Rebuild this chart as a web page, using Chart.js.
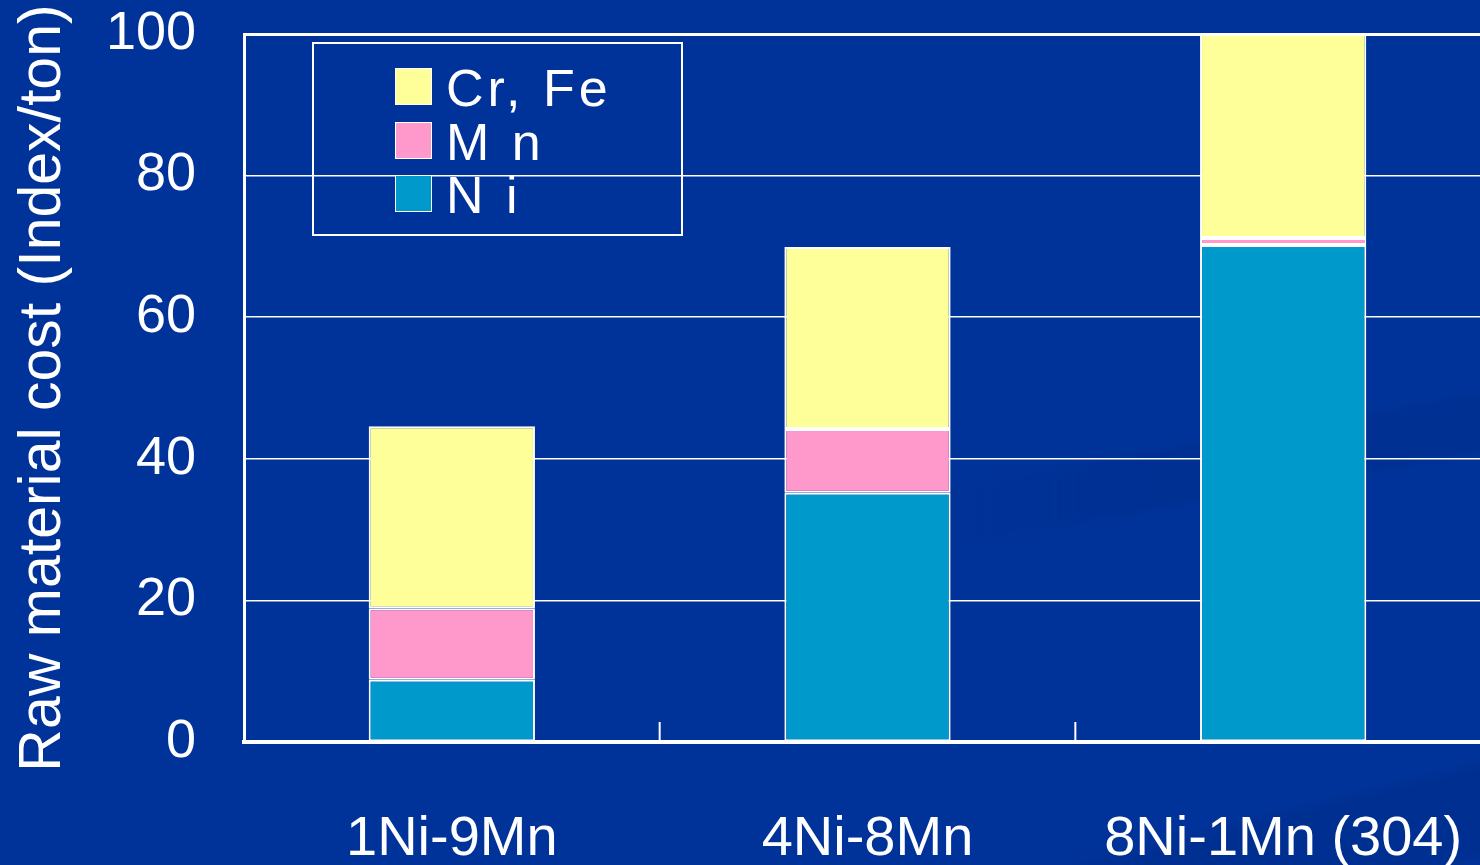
<!DOCTYPE html>
<html>
<head>
<meta charset="utf-8">
<script src="https://cdn.jsdelivr.net/npm/chart.js@4.4.1/dist/chart.umd.min.js"></script>
<style>
	html, body { margin: 0; padding: 0; background: #003399; overflow: hidden; width: 1480px; height: 865px; }
	#wrap { position: relative; width: 1491px; height: 865px; }
	/* faixas escuras suaves do fundo do slide */
	#fundo {
		position: absolute; left: 900px; top: 280px; width: 700px; height: 620px; opacity: 0.5;
		background:
			linear-gradient(-10deg, transparent 0 62%, rgba(0, 40, 130, 0.55) 64% 70%, transparent 72%),
			linear-gradient(-14deg, transparent 0 8%, rgba(0, 40, 130, 0.6) 10% 20%, transparent 22%);
		-webkit-mask-image: linear-gradient(to right, transparent, #000 35%);
		mask-image: linear-gradient(to right, transparent, #000 35%);
	}
	#grafico { display: block; position: relative; }
	#legenda {
		position: absolute; left: 312px; top: 42px; width: 367px; height: 190px;
		border: 2px solid #fff; font-family: "Liberation Sans", Arial, sans-serif; color: #fff;
	}
	.item { position: absolute; left: 81px; height: 37px; display: flex; align-items: center; white-space: pre; }
	.caixa { width: 35px; height: 35px; border: 1px solid #fff; }
	.texto { margin-left: 14px; font-size: 52px; letter-spacing: 4px; line-height: 37px; padding-top: 3px; }
</style>
</head>
<body>
<div id="wrap">
	<div id="fundo"></div>
	<canvas id="grafico" width="1491" height="865"></canvas>
	<div id="legenda"></div>
</div>
<script>
// Dados
const categorias = ["1Ni-9Mn", "4Ni-8Mn", "8Ni-1Mn (304)"];
const custoNi = [8.8, 35.2, 70.2];
const custoMn = [10.1, 9.0, 1.0];
const custoCrFe = [25.7, 25.7, 28.8];
const rotulosSerie = ["N i", "M n", "Cr, Fe"];
const coresSerie = ["#0099CC", "#FF99CC", "#FFFF99"];
const ticksY = [0, 20, 40, 60, 80, 100];

const fonte = "'Liberation Sans', Arial, sans-serif";

// Pequenas marcas entre categorias, para cima a partir do eixo
const marcasCategoria = {
	id: "marcasCategoria",
	afterDatasetsDraw(chart) {
		const x = chart.scales.x;
		const { ctx, chartArea } = chart;
		ctx.save();
		ctx.strokeStyle = "#fff";
		ctx.lineWidth = 2;
		for (let i = 1; i < categorias.length; i++) {
			const px = (x.getPixelForValue(i - 1) + x.getPixelForValue(i)) / 2;
			ctx.beginPath();
			ctx.moveTo(px, chartArea.bottom);
			ctx.lineTo(px, chartArea.bottom - 20);
			ctx.stroke();
		}
		ctx.restore();
	}
};

const series = [custoNi, custoMn, custoCrFe];

// distância dos rótulos feita com tickLength transparente (padding entra no autoPadding)
const chart = new Chart(document.getElementById("grafico"), {
	type: "bar",
	data: {
		labels: categorias,
		datasets: series.map((dados, i) => ({
			label: rotulosSerie[i],
			data: dados,
			backgroundColor: coresSerie[i],
			borderColor: "#fff",
			borderWidth: 2,
			borderSkipped: false,
			barPercentage: 0.4,
			categoryPercentage: 1
		}))
	},
	options: {
		responsive: false,
		animation: false,
		layout: { padding: { top: 34, left: 0, right: 0, bottom: 0 } },
		plugins: { legend: { display: false }, tooltip: { enabled: false } },
		scales: {
			x: {
				stacked: true,
				afterFit: (s) => { s.height = 123; },
				grid: { drawOnChartArea: false, drawTicks: true, tickLength: 64, tickColor: "transparent" },
				border: { color: "#fff", width: 4 },
				ticks: { color: "#fff", padding: 0, font: { family: fonte, size: 56 } }
			},
			y: {
				stacked: true,
				min: 0,
				max: 100,
				afterFit: (s) => { s.width = 244; },
				afterBuildTicks: (s) => { s.ticks = ticksY.map((v) => ({ value: v })); },
				grid: {
					color: "#fff",
					drawTicks: true,
					tickLength: 48,
					tickColor: "transparent",
					lineWidth: (c) => (c.tick && c.tick.value === 100 ? 3 : 1.5)
				},
				border: { color: "#fff", width: 3 },
				ticks: { color: "#fff", padding: 0, font: { family: fonte, size: 54 } },
				title: {
					display: true,
					text: "Raw material cost (Index/ton)",
					color: "#fff",
					padding: { top: 8, bottom: 0 },
					font: { family: fonte, size: 59 }
				}
			}
		}
	},
	plugins: [marcasCategoria]
});

// Legenda em HTML, ordem inversa do empilhamento
const legenda = document.getElementById("legenda");
const topos = [24, 78, 131];
chart.data.datasets.slice().reverse().forEach((ds, i) => {
	const item = document.createElement("div");
	item.className = "item";
	item.style.top = topos[i] + "px";
	item.innerHTML = `<div class="caixa" style="background:${ds.backgroundColor}"></div><span class="texto">${ds.label}</span>`;
	legenda.appendChild(item);
});
</script>
</body>
</html>
